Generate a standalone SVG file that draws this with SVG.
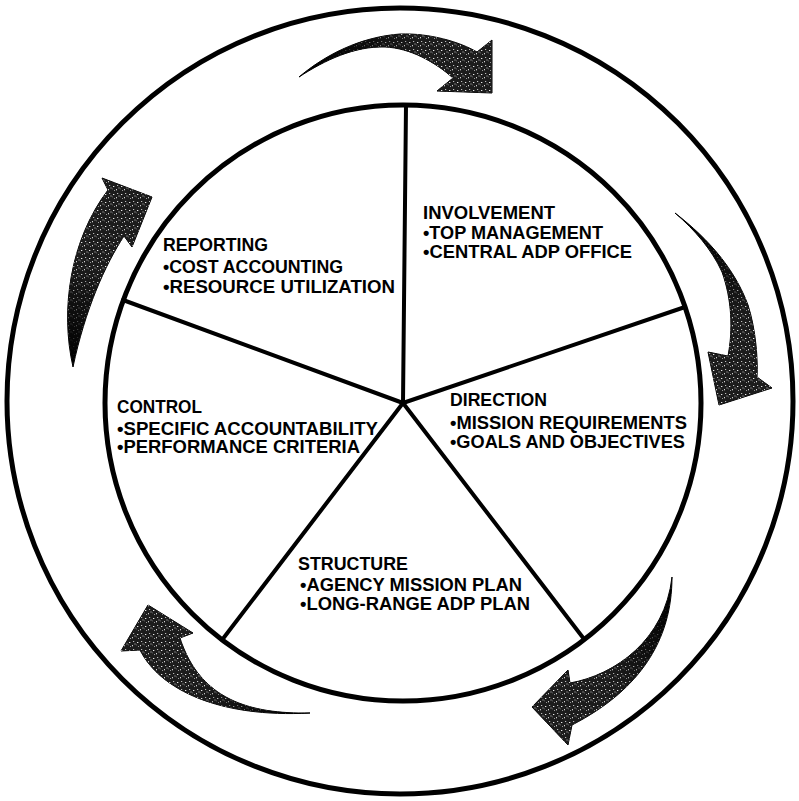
<svg xmlns="http://www.w3.org/2000/svg" width="799" height="801" viewBox="0 0 799 801">
<style>
.ring{fill:none;stroke:#000;stroke-width:5}
.spoke{stroke:#000;stroke-width:4;stroke-linecap:round}
.arrow{fill:#000;stroke:#000;stroke-width:1}
.spk{fill:url(#spk)}
.t{font-family:"Liberation Sans",Arial,Helvetica,sans-serif;font-weight:bold;font-size:17.5px;fill:#000}
</style>
<defs>
<pattern id="spk" width="8" height="8" patternUnits="userSpaceOnUse">
<rect width="8" height="8" fill="#1c1c1c"/>
<rect x="1" y="2" width="1.3" height="1" fill="#e8e8e8"/>
<rect x="4" y="5" width="1" height="1.3" fill="#d0d0d0"/>
<rect x="5" y="1" width="1.2" height="1" fill="#bbb"/>
<rect x="2" y="6" width="1" height="1" fill="#999"/>
<rect x="6.5" y="3.5" width="1" height="1" fill="#ccc"/>
<rect x="0" y="4.5" width="0.8" height="0.8" fill="#888"/>
</pattern>
<linearGradient id="g1" gradientUnits="userSpaceOnUse" x1="320" y1="60" x2="480" y2="70"><stop offset="0" stop-color="#000"/><stop offset="0.6" stop-color="#fff"/></linearGradient>
<linearGradient id="g2" gradientUnits="userSpaceOnUse" x1="690" y1="230" x2="740" y2="390"><stop offset="0" stop-color="#000"/><stop offset="0.6" stop-color="#fff"/></linearGradient>
<linearGradient id="g3" gradientUnits="userSpaceOnUse" x1="670" y1="600" x2="550" y2="710"><stop offset="0" stop-color="#000"/><stop offset="0.6" stop-color="#fff"/></linearGradient>
<linearGradient id="g4" gradientUnits="userSpaceOnUse" x1="300" y1="715" x2="150" y2="625"><stop offset="0" stop-color="#000"/><stop offset="0.55" stop-color="#fff"/></linearGradient>
<linearGradient id="g5" gradientUnits="userSpaceOnUse" x1="72" y1="360" x2="125" y2="195"><stop offset="0" stop-color="#000"/><stop offset="0.55" stop-color="#fff"/></linearGradient>
<mask id="m1" maskUnits="userSpaceOnUse" x="0" y="0" width="799" height="801"><rect width="799" height="801" fill="url(#g1)"/></mask>
<mask id="m2" maskUnits="userSpaceOnUse" x="0" y="0" width="799" height="801"><rect width="799" height="801" fill="url(#g2)"/></mask>
<mask id="m3" maskUnits="userSpaceOnUse" x="0" y="0" width="799" height="801"><rect width="799" height="801" fill="url(#g3)"/></mask>
<mask id="m4" maskUnits="userSpaceOnUse" x="0" y="0" width="799" height="801"><rect width="799" height="801" fill="url(#g4)"/></mask>
<mask id="m5" maskUnits="userSpaceOnUse" x="0" y="0" width="799" height="801"><rect width="799" height="801" fill="url(#g5)"/></mask>
<path id="a1" d="M299,77 C325,55 360,37 400,34 C430,33 460,42 477,52 L492,40 L492,93 L437,91 L453,78 C435,62 410,48 385,47 C355,46 325,60 299,77 Z"/>
<path id="a2" d="M675,213 C710,240 735,270 748,305 C756,330 758,360 757,377 L772,388 L719,405 L708,352 L728,356 C733,330 732,300 722,272 C712,250 695,230 675,213 Z"/>
<path id="a3" d="M672,577 C672,640 640,690 572,725 L568,745 L532,707 L568,670 L570,683 C615,675 665,640 672,577 Z"/>
<path id="a4" d="M310,713 C250,714 200,700 180,638 L193,633 L148,605 L121,651 L140,650 C160,690 220,718 310,713 Z"/>
<path id="a5" d="M73,367 C60,310 70,240 108,190 L102,178 L152,197 L132,247 L124,236 C105,265 85,310 73,367 Z"/>
</defs>
<rect width="799" height="801" fill="#fff"/>
<g id="rings">
<circle class="ring" cx="400" cy="401" r="393"/>
<circle class="ring" cx="403" cy="403" r="298"/>
</g>
<g id="spokes">
<line class="spoke" x1="403" y1="403" x2="406" y2="105"/>
<line class="spoke" x1="403" y1="403" x2="685" y2="307"/>
<line class="spoke" x1="403" y1="403" x2="584" y2="639"/>
<line class="spoke" x1="403" y1="403" x2="222" y2="640"/>
<line class="spoke" x1="403" y1="403" x2="123" y2="300"/>
</g>
<g id="connectors">
<g id="arrow-top"><use href="#a1" class="arrow"/><use href="#a1" class="spk" mask="url(#m1)"/></g>
<g id="arrow-right"><use href="#a2" class="arrow"/><use href="#a2" class="spk" mask="url(#m2)"/></g>
<g id="arrow-lower-right"><use href="#a3" class="arrow"/><use href="#a3" class="spk" mask="url(#m3)"/></g>
<g id="arrow-lower-left"><use href="#a4" class="arrow"/><use href="#a4" class="spk" mask="url(#m4)"/></g>
<g id="arrow-left"><use href="#a5" class="arrow"/><use href="#a5" class="spk" mask="url(#m5)"/></g>
</g>
<g id="involvement">
<text class="t" x="423" y="219" textLength="132" lengthAdjust="spacingAndGlyphs">INVOLVEMENT</text>
<text class="t" x="423" y="239" textLength="180" lengthAdjust="spacingAndGlyphs">•TOP MANAGEMENT</text>
<text class="t" x="423" y="258" textLength="209" lengthAdjust="spacingAndGlyphs">•CENTRAL ADP OFFICE</text>
</g>
<g id="reporting">
<text class="t" x="163" y="251" textLength="105" lengthAdjust="spacingAndGlyphs">REPORTING</text>
<text class="t" x="163" y="273" textLength="180" lengthAdjust="spacingAndGlyphs">•COST ACCOUNTING</text>
<text class="t" x="163" y="293" textLength="232" lengthAdjust="spacingAndGlyphs">•RESOURCE UTILIZATION</text>
</g>
<g id="control">
<text class="t" x="117" y="413" textLength="85" lengthAdjust="spacingAndGlyphs">CONTROL</text>
<text class="t" x="117" y="435" textLength="261" lengthAdjust="spacingAndGlyphs">•SPECIFIC ACCOUNTABILITY</text>
<text class="t" x="117" y="453" textLength="243" lengthAdjust="spacingAndGlyphs">•PERFORMANCE CRITERIA</text>
</g>
<g id="direction">
<text class="t" x="450" y="406" textLength="97" lengthAdjust="spacingAndGlyphs">DIRECTION</text>
<text class="t" x="450" y="429" textLength="237" lengthAdjust="spacingAndGlyphs">•MISSION REQUIREMENTS</text>
<text class="t" x="450" y="448" textLength="235" lengthAdjust="spacingAndGlyphs">•GOALS AND OBJECTIVES</text>
</g>
<g id="structure">
<text class="t" x="298" y="570" textLength="110" lengthAdjust="spacingAndGlyphs">STRUCTURE</text>
<text class="t" x="300" y="591" textLength="222" lengthAdjust="spacingAndGlyphs">•AGENCY MISSION PLAN</text>
<text class="t" x="300" y="610" textLength="230" lengthAdjust="spacingAndGlyphs">•LONG-RANGE ADP PLAN</text>
</g>
</svg>
